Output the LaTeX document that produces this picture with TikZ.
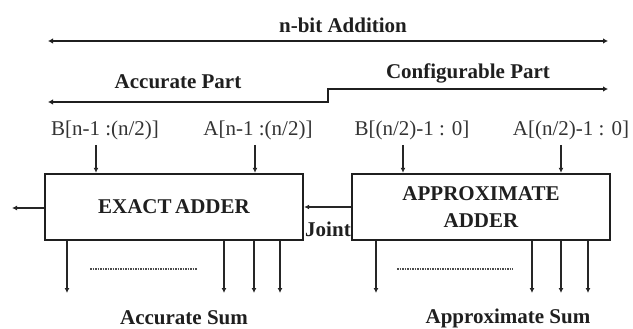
\documentclass[tikz,border=0pt]{standalone}
\usepackage{fontspec}
\setmainfont{Liberation Serif}
\usetikzlibrary{arrows.meta}
\begin{document}
\begin{tikzpicture}[x=1pt,y=-1pt,
  lbl/.style={font=\fontsize{21}{24}\selectfont, text=black!80, inner sep=0pt},
  blbl/.style={font=\fontsize{21}{24}\selectfont\bfseries, text=black!88, inner sep=0pt},
  box/.style={draw=black!88, line width=2.4pt, minimum width=258pt, minimum height=66pt, inner sep=0pt, align=center, font=\fontsize{21}{27}\selectfont\bfseries, text=black!88},
  arr/.style={draw=black!85, line width=1.3pt, -{Latex[length=5pt,width=5pt]}},
  darr/.style={draw=black!88, line width=2.3pt, {Latex[length=5pt,width=5.5pt]}-{Latex[length=5pt,width=5.5pt]}},
  dotline/.style={draw=black!70, line width=1.6pt, dash pattern=on 1.5pt off 1pt}]
\useasboundingbox (0,0) rectangle (633,329);
% top range arrows
\coordinate (tl) at (48,41);
\coordinate (tr) at (608,41);
\draw[darr] (tl) -- (tr);
\node[blbl] (nbit) at (343,25) {n-bit Addition};
\coordinate (sl) at (48,102);
\coordinate (sm) at (328,102);
\coordinate (sr) at (608,89);
\draw[darr] (sl) -- (sm) |- (sr);
\node[blbl] (accp) at (178,82) {Accurate Part};
\node[blbl] (confp) at (468,73) {Configurable Part};
% boxes
\node[box] (exact) at (174,207) {EXACT\,ADDER};
\node[box] (approx) at (481,207) {APPROXIMATE\\ADDER};
% input labels
\node[lbl] (b1) at (105,130) {B[n-1 :(n/2)]};
\node[lbl] (a1) at (258,130) {A[n-1 :(n/2)]};
\node[lbl] (b2) at (412,130) {B[(n/2)-1 : 0]};
\node[lbl] (a2) at (571,130) {A[(n/2)-1 : 0]};
\coordinate (ib1) at (96,145);
\coordinate (ia1) at (255,145);
\coordinate (ib2) at (403,145);
\coordinate (ia2) at (561,145);
\foreach \c/\b in {ib1/exact, ia1/exact, ib2/approx, ia2/approx}
  \draw[arr] (\c) -- (\c |- \b.north);
% carry out and joint
\coordinate (cout) at (12,208);
\draw[arr] (exact.west |- cout) -- (cout);
\draw[arr] (approx.west) -- (approx.west -| exact.east);
\node[blbl] (joint) at (328,229) {Joint};
% outputs
\foreach \x [count=\i] in {67,224,254,280} {
  \coordinate (eo\i) at (\x,293);
  \draw[arr] (eo\i |- exact.south) -- (eo\i);
}
\foreach \x [count=\i] in {376,532,561,588} {
  \coordinate (ao\i) at (\x,293);
  \draw[arr] (ao\i |- approx.south) -- (ao\i);
}
\coordinate (d1a) at (90,269);
\coordinate (d1b) at (197,269);
\coordinate (d2a) at (397,269);
\coordinate (d2b) at (513,269);
\draw[dotline] (d1a) -- (d1b);
\draw[dotline] (d2a) -- (d2b);
\node[blbl] (asum) at (184,318) {Accurate Sum};
\node[blbl] (psum) at (508,318) {Approximate Sum};
\end{tikzpicture}
\end{document}
